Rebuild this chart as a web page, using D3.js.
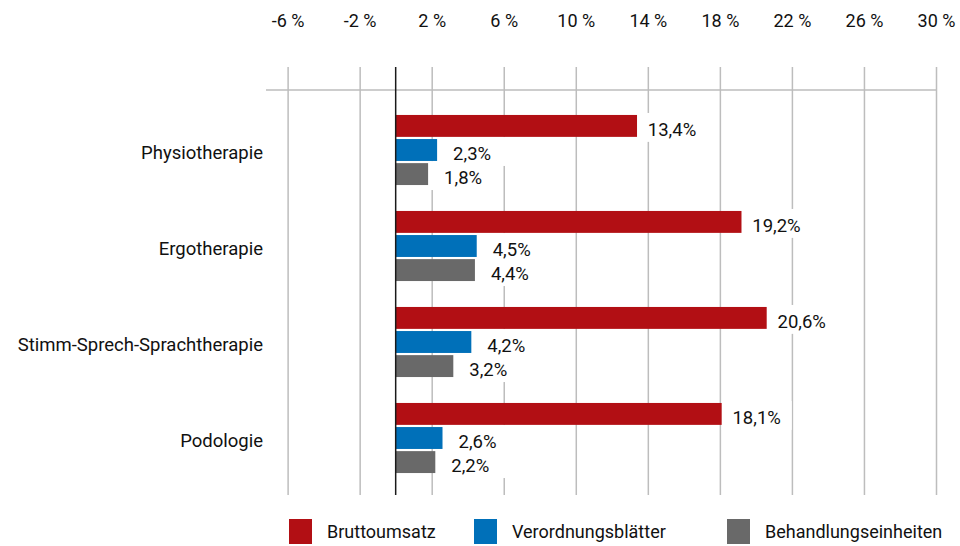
<!DOCTYPE html>
<html>
<head>
<meta charset="utf-8">
<script src="https://cdn.jsdelivr.net/npm/d3@7"></script>
<style>
  body { margin: 0; background: #fff; }
  #chart text { font-family: Roboto, "Noto Sans", sans-serif; fill: #111; }
</style>
</head>
<body>
<div id="chart"></div>
<script>
// data
var categories = ["Physiotherapie", "Ergotherapie", "Stimm-Sprech-Sprachtherapie", "Podologie"];
var seriesNames = ["Bruttoumsatz", "Verordnungsblätter", "Behandlungseinheiten"];
var bruttoumsatz = [13.4, 19.2, 20.6, 18.1];
var verordnungsblaetter = [2.3, 4.5, 4.2, 2.6];
var behandlungseinheiten = [1.8, 4.4, 3.2, 2.2];
var tickVals = [-6, -2, 2, 6, 10, 14, 18, 22, 26, 30];

var colors = ["#b20f14", "#0070b9", "#696969"];

drawChart();

function drawChart() {
    var width = 960, height = 546;

    var svg = d3.select("#chart").append("svg")
        .attr("width", width)
        .attr("height", height);

    var seriesValues = [bruttoumsatz, verordnungsblaetter, behandlungseinheiten];
    var rows = [];
    categories.forEach(function (c, i) {
        seriesNames.forEach(function (s, j) {
            rows.push({ cat: c, series: s, value: seriesValues[j][i], idx: j });
        });
    });

    var x = d3.scaleLinear().domain([-7.2, 30]).range([266, 936]);

    var y0 = d3.scaleBand()
        .domain(categories)
        .range([102, 486])
        .paddingInner(0.27)
        .paddingOuter(0.135);

    var y1 = d3.scaleBand()
        .domain(seriesNames)
        .range([0, y0.bandwidth()])
        .paddingInner(0.09);

    // vertical grid
    var grid = svg.append("g")
        .attr("transform", "translate(0,67)")
        .call(d3.axisBottom(x).tickValues(tickVals).tickSize(428).tickFormat(""));
    grid.select(".domain").remove();
    grid.selectAll("line").attr("stroke", "#bdbdbd").attr("stroke-width", 1.5);

    // horizontal rule under the tick labels
    svg.append("line")
        .attr("x1", x.range()[0]).attr("x2", x.range()[1])
        .attr("y1", 90).attr("y2", 90)
        .attr("stroke", "#bdbdbd").attr("stroke-width", 1.5);

    // tick labels on top
    var top = svg.append("g")
        .attr("transform", "translate(0,27)")
        .call(d3.axisTop(x).tickValues(tickVals).tickSize(0).tickPadding(0)
            .tickFormat(function (d) { return d + " %"; }));
    top.select(".domain").remove();
    top.selectAll("text").attr("font-size", 18).attr("dy", "0em");

    // category labels
    var left = svg.append("g")
        .attr("transform", "translate(266,0)")
        .call(d3.axisLeft(y0).tickSize(0).tickPadding(3));
    left.select(".domain").remove();
    left.selectAll("text").attr("font-size", 18.5).attr("dy", "0.5em");

    var fmt = d3.format(".1f");

    // white label boxes hide the grid behind the values
    svg.append("g").selectAll("rect")
        .data(rows)
        .enter().append("rect")
        .attr("x", function (d) { return x(d.value); })
        .attr("y", function (d) { return y0(d.cat) + y1(d.series) - 2; })
        .attr("width", 70)
        .attr("height", y1.bandwidth() + 7)
        .attr("fill", "#fff");

    svg.append("g").selectAll("rect")
        .data(rows)
        .enter().append("rect")
        .attr("x", x(0))
        .attr("y", function (d) { return y0(d.cat) + y1(d.series); })
        .attr("width", function (d) { return x(d.value) - x(0); })
        .attr("height", y1.bandwidth())
        .attr("fill", function (d) { return colors[d.idx]; });

    svg.append("g").selectAll("text")
        .data(rows)
        .enter().append("text")
        .attr("x", function (d) { return x(d.value) + 35; })
        .attr("y", function (d) { return y0(d.cat) + y1(d.series) + y1.bandwidth() / 2; })
        .attr("dy", "0.52em")
        .attr("text-anchor", "middle")
        .attr("font-size", 18.5)
        .text(function (d) { return fmt(d.value).replace(".", ",") + "%"; });

    // zero line
    svg.append("line")
        .attr("x1", x(0)).attr("x2", x(0))
        .attr("y1", 67).attr("y2", 495)
        .attr("stroke", "#1a1a1a").attr("stroke-width", 1.5);

    // legend
    var legendX = [289, 474, 727];
    var legend = svg.append("g").selectAll("g")
        .data(seriesNames)
        .enter().append("g")
        .attr("transform", function (d, i) { return "translate(" + legendX[i] + ",519)"; });
    legend.append("rect")
        .attr("width", 23).attr("height", 25)
        .attr("fill", function (d, i) { return colors[i]; });
    legend.append("text")
        .attr("x", 38).attr("y", 19)
        .attr("font-size", 18)
        .text(function (d) { return d; });
}
</script>
</body>
</html>
